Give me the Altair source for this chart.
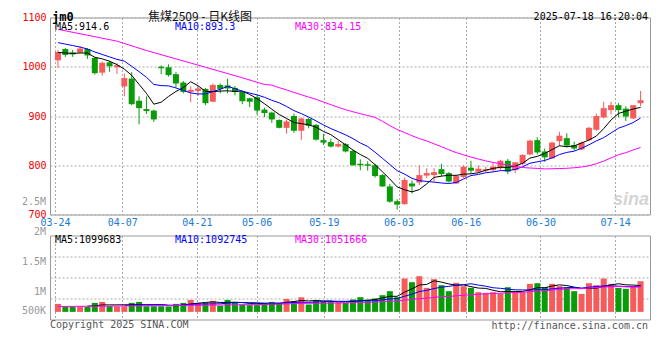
import altair as alt
import pandas as pd

# ---------------- data ----------------
tick_dates = ["03-24", "04-07", "04-21", "05-06", "05-19", "06-03", "06-16", "06-30", "07-14"]
tick_index = [0, 9, 19, 27, 36, 46, 55, 65, 75]

open_ = [1013, 1036, 1029, 1029, 1036, 1018, 988, 1009, 999, 960,
         976, 931, 914, 911, 1000, 999, 985, 968, 949, 951,
         955, 929, 963, 962, 957, 949, 936, 938, 913, 907,
         892, 876, 900, 870, 894, 882, 851, 847, 838, 843,
         829, 803, 802, 800, 780, 757, 727, 721, 763, 765,
         779, 780, 792, 784, 763, 776, 795, 787, 789, 790,
         794, 809, 790, 803, 822, 851, 828, 814, 849, 855,
         841, 832, 851, 872, 897, 912, 922, 915, 895, 926]
close = [1030, 1024, 1025, 1037, 1023, 987, 1008, 1001, 1003, 977,
         924, 916, 910, 893, 997, 983, 966, 949, 953, 956,
         926, 963, 955, 956, 949, 930, 929, 911, 906, 893,
         876, 889, 870, 895, 880, 852, 846, 838, 843, 828,
         800, 800, 799, 778, 757, 726, 720, 770, 757, 780,
         784, 786, 782, 767, 778, 797, 789, 793, 792, 797,
         809, 787, 806, 821, 850, 826, 816, 846, 860, 840,
         834, 846, 876, 900, 916, 922, 912, 899, 922, 932]
high = [1034, 1038, 1034, 1042, 1038, 1020, 1011, 1012, 1007, 986,
        989, 940, 940, 913, 1003, 1005, 989, 971, 960, 960,
        957, 966, 966, 976, 961, 950, 937, 942, 917, 909,
        893, 893, 905, 897, 896, 884, 864, 854, 849, 845,
        831, 812, 808, 803, 782, 762, 731, 775, 769, 800,
        794, 794, 803, 786, 781, 800, 809, 800, 797, 804,
        811, 813, 806, 822, 852, 857, 834, 848, 868, 865,
        848, 848, 878, 905, 929, 929, 926, 920, 922, 951]
low = [998, 1020, 1020, 1027, 1016, 984, 982, 990, 985, 940,
       922, 883, 904, 888, 985, 980, 958, 946, 928, 941,
       922, 928, 946, 946, 942, 924, 918, 903, 898, 886,
       875, 864, 866, 851, 875, 850, 841, 836, 836, 826,
       799, 790, 789, 775, 756, 724, 710, 720, 743, 760,
       774, 767, 778, 765, 762, 774, 784, 784, 786, 787,
       790, 782, 784, 800, 820, 822, 807, 813, 839, 836,
       830, 831, 849, 870, 895, 903, 897, 890, 894, 920]
volume = [800000, 757000, 757000, 757000, 750000, 817000, 833000, 762000, 757000, 757000,
          817000, 833000, 760000, 760000, 760000, 757000, 800000, 817000, 867000, 817000,
          817000, 850000, 770000, 867000, 833000, 790000, 780000, 780000, 817000, 833000,
          817000, 883000, 845000, 910000, 790000, 855000, 845000, 845000, 817000, 817000,
          873000, 912000, 873000, 890000, 945000, 1012000, 912000, 1223000, 1162000, 1262000,
          1067000, 1212000, 1112000, 1012000, 1151000, 1095000, 1067000, 995000, 984000, 995000,
          973000, 1078000, 995000, 995000, 1134000, 1145000, 1078000, 1134000, 1095000, 1078000,
          1012000, 967000, 1145000, 1112000, 1223000, 1134000, 1067000, 1051000, 1095000, 1178000]

# moving-average values before enough closes exist
ma5_head = [1029, 1028, 1027, 1028]
ma10_head = [1049, 1046, 1043, 1040, 1036, 1030, 1025, 1020, 1015]
ma30_head_idx = [0, 4, 8, 12, 16, 20, 24, 28]
ma30_head_val = [1076, 1064, 1052, 1033, 1016, 999, 982, 964]
vma30_head_idx = [0, 14, 28]
vma30_head_val = [757000, 770000, 790000]

legend_price = ["MA5:914.6", "MA10:893.3", "MA30:834.15"]
legend_vol = ["MA5:1099683", "MA10:1092745", "MA30:1051666"]
vol_labels = ["2.5M", "2M", "1.5M", "1M", "500K"]
vol_label_pos = [2500000, 2000000, 1500000, 1000000, 678000]
vol_base = 667000

UP = "#f65b5b"
DOWN = "#0a9b0a"
MONO = "DejaVu Sans Mono"

# ---------------- tables ----------------
n = len(close)
df = pd.DataFrame({"i": range(n), "open": open_, "high": high, "low": low,
                   "close": close, "vol": volume})
df["dir"] = ["up" if c >= o else "down" for o, c in zip(open_, close)]


def moving(values, w, head_idx, head_val):
    s = pd.Series(values).rolling(w).mean()
    pts = [(a, b) for a, b in zip(head_idx, head_val)]
    pts += [(k, s[k]) for k in range(w - 1, n)]
    return pd.DataFrame(pts, columns=["i", "v"])


ma5 = moving(close, 5, list(range(4)), ma5_head)
ma10 = moving(close, 10, list(range(9)), ma10_head)
ma30 = moving(close, 30, ma30_head_idx, ma30_head_val)
vma5 = moving(volume, 5, [], [])
vma10 = moving(volume, 10, [], [])
vma30 = moving(volume, 30, vma30_head_idx, vma30_head_val)

# ---------------- scales / axes ----------------
x_scale = alt.Scale(domain=[-0.4, n - 0.4], nice=False, zero=False)
grid_vals = [t * n / (n - 1) - 0.4 for t in tick_index]
expr = "'" + tick_dates[-1] + "'"
for k in range(len(tick_index) - 2, -1, -1):
    mid = (grid_vals[k] + grid_vals[k + 1]) / 2
    expr = f"datum.value < {mid:.3f} ? '{tick_dates[k]}' : ({expr})"

GRID = dict(grid=True, gridColor="#aaaaaa", gridDash=[2, 2], gridWidth=1,
            ticks=False, tickSize=0, domain=False, title=None, minExtent=0)

x_axis_top = alt.Axis(values=grid_vals, labelExpr=expr, labelColor="#1a7ad4",
                      labelFont=MONO, labelFontSize=10, labelPadding=3,
                      labelFlush=False, labelOverlap=False, **GRID)
x_axis_bot = alt.Axis(values=grid_vals, labels=False, **GRID)

p_scale = alt.Scale(domain=[700, 1100], nice=False, zero=False)
p_axis = alt.Axis(values=list(range(700, 1101, 50)), format="d", labelColor="#ee0000",
                  labelFont=MONO, labelFontSize=10, labelPadding=4,
                  labelOverlap=False, labelFlush=False, **GRID)

v_dom = [540000, 1940000]
v_scale = alt.Scale(domain=v_dom, nice=False, zero=False)
v_axis = alt.Axis(values=[v_dom[0] + k * (v_dom[1] - v_dom[0]) / 4 for k in (1, 2, 3)],
                  labels=False, **GRID)

col = alt.Color("dir:N", scale=alt.Scale(domain=["up", "down"], range=[UP, DOWN]), legend=None)
X = alt.X("i:Q", scale=x_scale, axis=x_axis_top)
Xb = alt.X("i:Q", scale=x_scale, axis=x_axis_bot)

# ---------------- price panel ----------------
base = alt.Chart(df)
wick = base.mark_rule(strokeWidth=1).encode(
    x=X, y=alt.Y("low:Q", scale=p_scale, axis=p_axis), y2="high:Q", color=col)
body = base.mark_bar(size=6).encode(x="i:Q", y="open:Q", y2="close:Q", color=col)


def mline(d, color, scale):
    return alt.Chart(d).mark_line(color=color, strokeWidth=1).encode(
        x=alt.X("i:Q", scale=x_scale), y=alt.Y("v:Q", scale=scale))


def label(text, x, y, color="#000", align="left", size=10, font=MONO, weight="normal",
          style="normal"):
    return alt.Chart(pd.DataFrame({"t": [text]})).mark_text(
        align=align, baseline="middle", font=font, fontSize=size, color=color,
        fontWeight=weight, fontStyle=style).encode(
        text="t:N", x=alt.value(x), y=alt.value(y))


top = alt.layer(
    wick, body,
    mline(ma5, "#000000", p_scale), mline(ma10, "#0000ff", p_scale), mline(ma30, "#ff00ff", p_scale),
    label(legend_price[0], 5, 9.5, "#000000"),
    label(legend_price[1], 125, 9.5, "#0000ff"),
    label(legend_price[2], 245, 9.5, "#ff00ff"),
    label("jm0", 2, -1, "#000000", size=12, weight="bold"),
    label("焦煤2509 - 日K线图", 150, -1, "#111111", align="center", size=12,
          font="Noto Sans CJK SC"),
    label("2025-07-18 16:20:04", 598, -1, "#000000", align="right", size=10),
    label("sina", 599, 182, "#d4d4d4", align="right", size=18, font="Liberation Sans",
          weight="bold", style="italic"),
).properties(width=600, height=197)

# ---------------- volume panel ----------------
vbase = alt.Chart(df)
vbars = vbase.mark_bar(size=6).encode(
    x=Xb, y=alt.Y("vol:Q", scale=v_scale, axis=v_axis), y2=alt.datum(vol_base), color=col)
vlab = alt.Chart(pd.DataFrame({"t": vol_labels, "v": vol_label_pos})).mark_text(
    align="right", baseline="middle", font=MONO, fontSize=10, color="#999999").encode(
    text="t:N", x=alt.value(-4), y=alt.Y("v:Q", scale=v_scale))

bottom = alt.layer(
    vbars,
    mline(vma5, "#000000", v_scale), mline(vma10, "#0000ff", v_scale), mline(vma30, "#ff00ff", v_scale),
    vlab,
    label(legend_vol[0], 5, 4, "#000000"),
    label(legend_vol[1], 125, 4, "#0000ff"),
    label(legend_vol[2], 245, 4, "#ff00ff"),
    label("Copyright 2025 SINA.COM", 0, 89, "#555555"),
    label("http://finance.sina.com.cn", 598, 90, "#555555", align="right"),
).properties(width=600, height=84)

chart = alt.vconcat(top, bottom, spacing=21, bounds="flush").properties(
    padding={"left": 13, "top": 1.5, "right": 0, "bottom": 4},
    background="white",
).configure_view(stroke="#999999", strokeWidth=1)

chart.save("out.html", embed_options={"renderer": "svg", "actions": False})
